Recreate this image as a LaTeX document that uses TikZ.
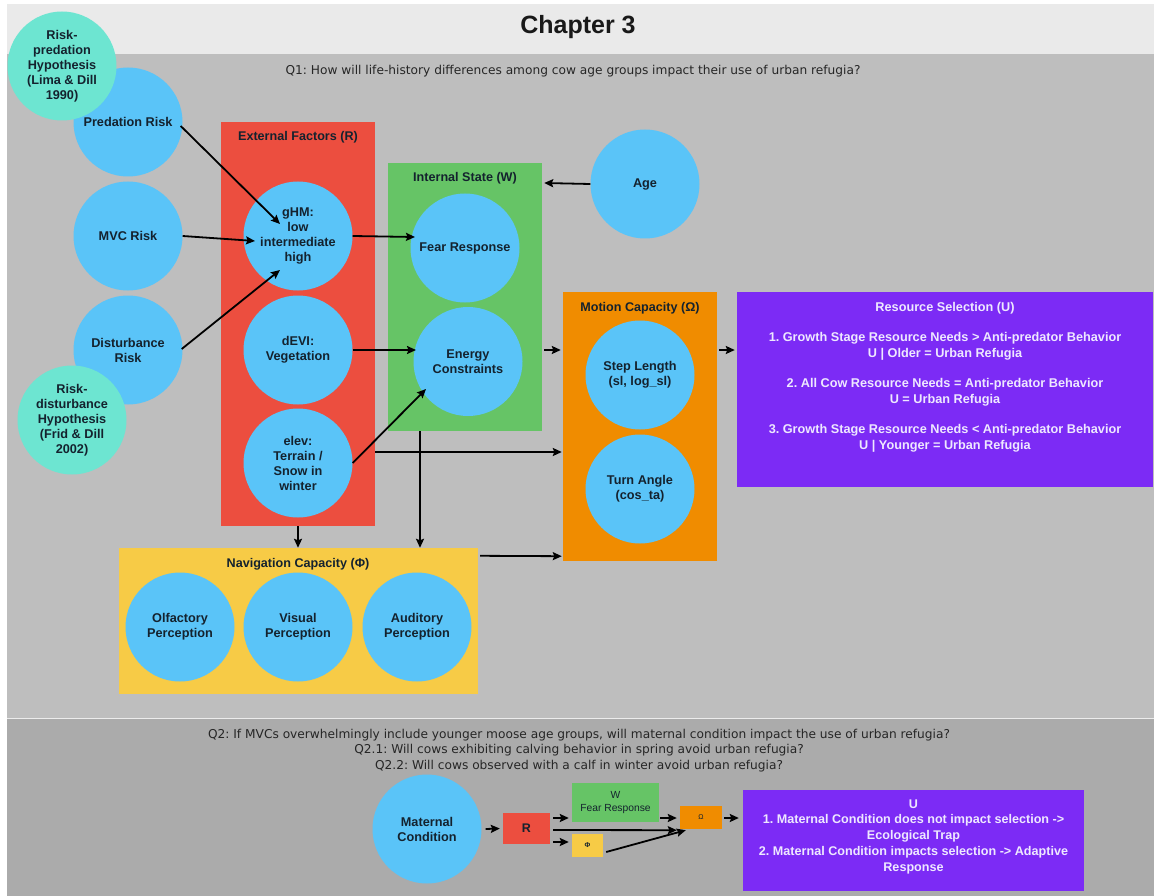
\documentclass[tikz,border=0pt]{standalone}
\usepackage{fontspec}
\setmainfont{Liberation Sans}
\newfontfamily\qfont{DejaVu Sans}
\usetikzlibrary{arrows.meta,calc}
\frenchspacing

\definecolor{skyc}{HTML}{5AC4F8}
\definecolor{tealc}{HTML}{6DE5D1}
\definecolor{redc}{HTML}{EC4E3F}
\definecolor{greenc}{HTML}{66C466}
\definecolor{orangec}{HTML}{F08C00}
\definecolor{yellowc}{HTML}{F7CB46}
\definecolor{purplec}{HTML}{7C2BF5}
\definecolor{titlegray}{HTML}{EAEAEA}
\definecolor{panelgray}{HTML}{BEBEBE}
\definecolor{lowgray}{HTML}{ABABAB}
\definecolor{ink}{HTML}{14222E}
\definecolor{lav}{HTML}{EEE8FF}

\tikzset{
  circ/.style={circle, fill=skyc, minimum size=109pt, inner sep=0pt, align=center,
    text=ink, font=\fontsize{12.7}{15}\selectfont\bfseries},
  hypo/.style={circ, fill=tealc},
  panel/.style={rectangle, inner sep=0pt, draw=none},
  ttl/.style={text=ink, font=\fontsize{12.6}{15}\selectfont\bfseries, inner sep=0pt},
  qtext/.style={text=black!85, font=\qfont\fontsize{12.2}{15.5}\selectfont, align=center, inner sep=0pt},
  conn/.style={line width=1.8pt, black, -{Stealth[length=9pt,width=8pt,inset=1.5pt]}}
}

\begin{document}
\begin{tikzpicture}[x=1pt,y=-1pt]
\useasboundingbox (0,0) rectangle (1154,896);
\fill[white] (0,0) rectangle (1154,896);

% background bands
\fill[titlegray] (7,4) rectangle (1154,54);
\fill[panelgray] (7,54) rectangle (1154,717.5);
\fill[lowgray] (7,719) rectangle (1154,896);
\draw[white!85!gray, line width=1pt] (7,718.2) -- (1154,718.2);

\node[font=\fontsize{25}{28}\selectfont\bfseries, text=black!90] (title) at (578,27) {Chapter 3};
\node[qtext] (q1) at (573,71) {Q1: How will life-history differences among cow age groups impact their use of urban refugia?};

% coloured panels
\node[panel, fill=redc, minimum width=154pt, minimum height=404pt] (ext) at (298,324) {};
\node[panel, fill=greenc, minimum width=154pt, minimum height=268pt] (int) at (465,297) {};
\node[panel, fill=orangec, minimum width=154pt, minimum height=269pt] (mot) at (640,426.5) {};
\node[panel, fill=purplec, minimum width=416pt, minimum height=195pt] (res) at (945,389.5) {};
\node[panel, fill=yellowc, minimum width=359pt, minimum height=146pt] (nav) at (298.5,621) {};

\node[ttl] (extttl) at (298,137) {External Factors (R)};
\node[ttl] (intttl) at (465,178) {Internal State (W)};
\node[ttl] (motttl) at (640,308) {Motion Capacity (Ω)};
\node[ttl] (navttl) at (298,564) {Navigation Capacity (Φ)};

\node[text=lav, font=\fontsize{12.7}{15.33}\selectfont\bfseries, align=center, inner sep=0pt] (restxt) at (945,377)
  {Resource Selection (U)\\[15.33pt]
   1. Growth Stage Resource Needs > Anti-predator Behavior\\
   U | Older = Urban Refugia\\[15.33pt]
   2. All Cow Resource Needs = Anti-predator Behavior\\
   U = Urban Refugia\\[15.33pt]
   3. Growth Stage Resource Needs < Anti-predator Behavior\\
   U | Younger = Urban Refugia};

% circles
\node[circ] (pred) at (128,122) {Predation Risk};
\node[circ] (mvc) at (128,236) {MVC Risk};
\node[circ] (dist) at (128,350) {Disturbance\\Risk};
\node[hypo] (hpred) at (62,66) {Risk-\\predation\\Hypothesis\\(Lima \& Dill\\1990)};
\node[hypo] (hdist) at (72,420) {Risk-\\disturbance\\Hypothesis\\(Frid \& Dill\\2002)};

\node[circ] (ghm) at (298,236) {gHM:\\low\\intermediate\\high};
\node[circ] (devi) at (298,350) {dEVI:\\Vegetation};
\node[circ] (elev) at (298,463) {elev:\\Terrain /\\Snow in\\winter};

\node[circ] (fear) at (465,248) {Fear Response};
\node[circ] (energy) at (468,361.5) {Energy\\Constraints};
\node[circ] (age) at (645,184) {Age};

\node[circ] (step) at (640,375) {Step Length\\(sl, log\_sl)};
\node[circ] (turn) at (640,489) {Turn Angle\\(cos\_ta)};

\node[circ] (olf) at (180,627) {Olfactory\\Perception};
\node[circ] (vis) at (298,627) {Visual\\Perception};
\node[circ] (aud) at (417,627) {Auditory\\Perception};

% connectors of the upper model
\draw[conn] ($(pred.east)+(-2,4)$) -- ($(ghm.center)+(-18,-12)$);
\draw[conn] (mvc.east) -- ($(ghm.center)+(-43,5)$);
\draw[conn] ($(dist.east)+(-1,-1)$) -- ($(ghm.center)+(-18,34)$);
\draw[conn] (ghm.east) -- ($(fear.center)+(-50,-11)$);
\draw[conn] (devi.east) -- ($(energy.center)+(-52,-11.5)$);
\draw[conn] (elev.east) -- ($(energy.center)+(-42,27.5)$);
\draw[conn] ($(ext.east)+(0,128)$) -- ($(mot.west)+(-1,25.5)$);
\draw[conn] (age.west) -- ($(int.east)+(2,-114)$);
\draw[conn] ($(int.east)+(2,53)$) -- ($(mot.west)+(-2,-76.5)$);
\draw[conn] ($(mot.east)+(2,-76.5)$) -- ($(res.west)+(-2,-39.5)$);
\draw[conn] (ext.south) -- (ext.south |- nav.north);
\draw[conn] ($(int.south)+(-45,0)$) -- ($(nav.north)+(121.5,0)$);
\draw[conn] ($(nav.north east)+(2,8)$) -- ($(mot.south west)+(-1,-5)$);

% lower model
\node[qtext] (q2) at (579,750.5) {Q2: If MVCs overwhelmingly include younger moose age groups, will maternal condition impact the use of urban refugia?\\
Q2.1: Will cows exhibiting calving behavior in spring avoid urban refugia?\\
Q2.2: Will cows observed with a calf in winter avoid urban refugia?};

\node[circ] (mat) at (427,829) {Maternal\\Condition};
\node[panel, fill=redc, minimum width=47pt, minimum height=31pt, text=ink, font=\fontsize{12.5}{14}\selectfont\bfseries] (r) at (526.5,828.5) {R};
\node[panel, fill=greenc, minimum width=87pt, minimum height=39pt, text=ink, align=center, font=\fontsize{10.3}{12.5}\selectfont] (w) at (615.5,802.5) {W\\Fear Response};
\node[panel, fill=yellowc, minimum width=31pt, minimum height=23pt, text=ink, font=\fontsize{7}{8}\selectfont\bfseries] (phi) at (587.5,845.5) {Φ};
\node[panel, fill=orangec, minimum width=42pt, minimum height=23pt, text=ink, font=\fontsize{7}{8}\selectfont] (om) at (701,817.5) {Ω};
\node[panel, fill=purplec, minimum width=341pt, minimum height=101pt] (u) at (913.5,840.5) {};
\node[text=lav, font=\fontsize{12.6}{15.75}\selectfont\bfseries, align=center, inner sep=0pt] (utxt) at (913.5,836.5)
  {U\\
   1. Maternal Condition does not impact selection ->\\
   Ecological Trap\\
   2. Maternal Condition impacts selection -> Adaptive\\
   Response};

\draw[conn] ([xshift=4pt]mat.east) -- ([xshift=-3pt]r.west);
\draw[conn] ($(r.east)+(3,-10.5)$) -- ($(w.west)+(-3,15.5)$);
\draw[conn] ($(r.east)+(3,13.5)$) -- ($(phi.west)+(-3,-3.5)$);
\draw[conn] ($(r.east)+(3,1.5)$) -- ($(om.south west)+(-3,1)$);
\draw[conn] ($(w.east)+(1,15.5)$) -- ($(om.west)+(-3,0.5)$);
\draw[conn] ($(phi.east)+(3,6.5)$) -- ($(om.south west)+(6,1)$);
\draw[conn] ($(om.east)+(2,0.5)$) -- ($(u.west)+(-4,-22.5)$);

\end{tikzpicture}
\end{document}
